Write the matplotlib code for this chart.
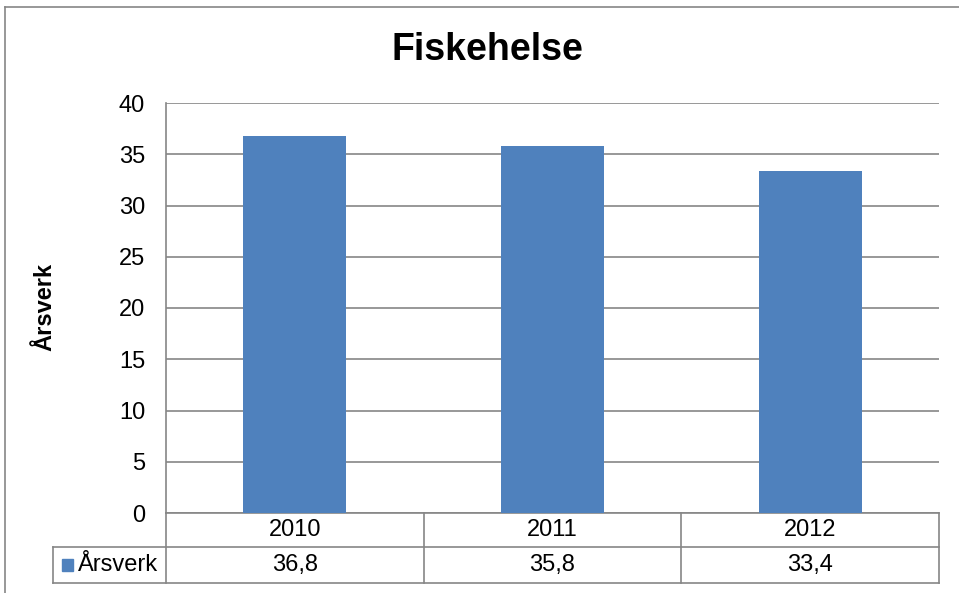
import matplotlib
matplotlib.use("Agg")
import matplotlib.pyplot as plt
from matplotlib.lines import Line2D
from matplotlib.patches import Rectangle

plt.rcParams['font.family'] = ['Liberation Sans', 'DejaVu Sans']

title = "Fiskehelse"
years = ["2010", "2011", "2012"]
values = [36.8, 35.8, 33.4]
value_labels = ["36,8", "35,8", "33,4"]
series_name = "Årsverk"
yticks = [0, 5, 10, 15, 20, 25, 30, 35, 40]

W, H = 959, 593
FS = 17
fig = plt.figure(figsize=(W / 100, H / 100), dpi=100)
bar_color = "#4F81BD"
grid_color = "#868686"

# outer chart border
fig.add_artist(Line2D([5 / W, 5 / W], [0, 1 - 7 / H], color=grid_color, lw=1.2, transform=fig.transFigure))
fig.add_artist(Line2D([5 / W, 1], [1 - 7 / H, 1 - 7 / H], color=grid_color, lw=1.2, transform=fig.transFigure))

L, R, T, B = 166, 939, 103, 513
ax = fig.add_axes([L / W, 1 - B / H, (R - L) / W, (B - T) / H])
x = list(range(len(years)))
ax.bar(x, values, width=0.4, color=bar_color, zorder=3)
ax.set_xlim(-0.5, len(years) - 0.5)
ax.set_ylim(0, 40)
ax.set_yticks(yticks)
ax.set_yticklabels([str(v) for v in yticks], fontsize=FS)
ax.tick_params(axis='y', length=0, pad=15)
ax.set_xticks([])
ax.grid(axis='y', color=grid_color, lw=1.2, zorder=0)
for s in ['top', 'right', 'bottom']:
    ax.spines[s].set_visible(False)
ax.spines['left'].set_color(grid_color)
ax.spines['left'].set_linewidth(1.2)

fig.text(45 / W, 1 - 307 / H, series_name, rotation=90, ha='center', va='center',
         fontsize=FS, fontweight='bold')
fig.text(487 / W, 1 - 50 / H, title, ha='center', va='center', fontsize=27, fontweight='bold')

# data table drawn below axes (in data x, axes-fraction y)
tr = ax.get_xaxis_transform()
ph = B - T
pw = R - L
r1 = -34 / ph
r2 = -70 / ph
xl = -0.5 - 3 * (L - 53) / pw
lk = dict(color=grid_color, lw=1.2, clip_on=False, transform=tr)
ax.add_line(Line2D([-0.5, 2.5], [0, 0], **lk))
ax.add_line(Line2D([xl, 2.5], [r1, r1], **lk))
ax.add_line(Line2D([xl, 2.5], [r2, r2], **lk))
ax.add_line(Line2D([xl, xl], [r1, r2], **lk))
for b in [-0.5, 0.5, 1.5, 2.5]:
    ax.add_line(Line2D([b, b], [0, r2], **lk))
for i, (yr, vl) in enumerate(zip(years, value_labels)):
    ax.text(i, r1 / 2, yr, ha='center', va='center', fontsize=FS, transform=tr)
    ax.text(i, (r1 + r2) / 2, vl, ha='center', va='center', fontsize=FS, transform=tr)
# legend key in table
fig.patches.append(Rectangle((62 / W, 1 - 571 / H), 11 / W, 12 / H, color=bar_color, transform=fig.transFigure))
fig.text(78 / W, 1 - 565 / H, series_name, ha='left', va='center', fontsize=FS)

fig.savefig("out.png", dpi=100)
